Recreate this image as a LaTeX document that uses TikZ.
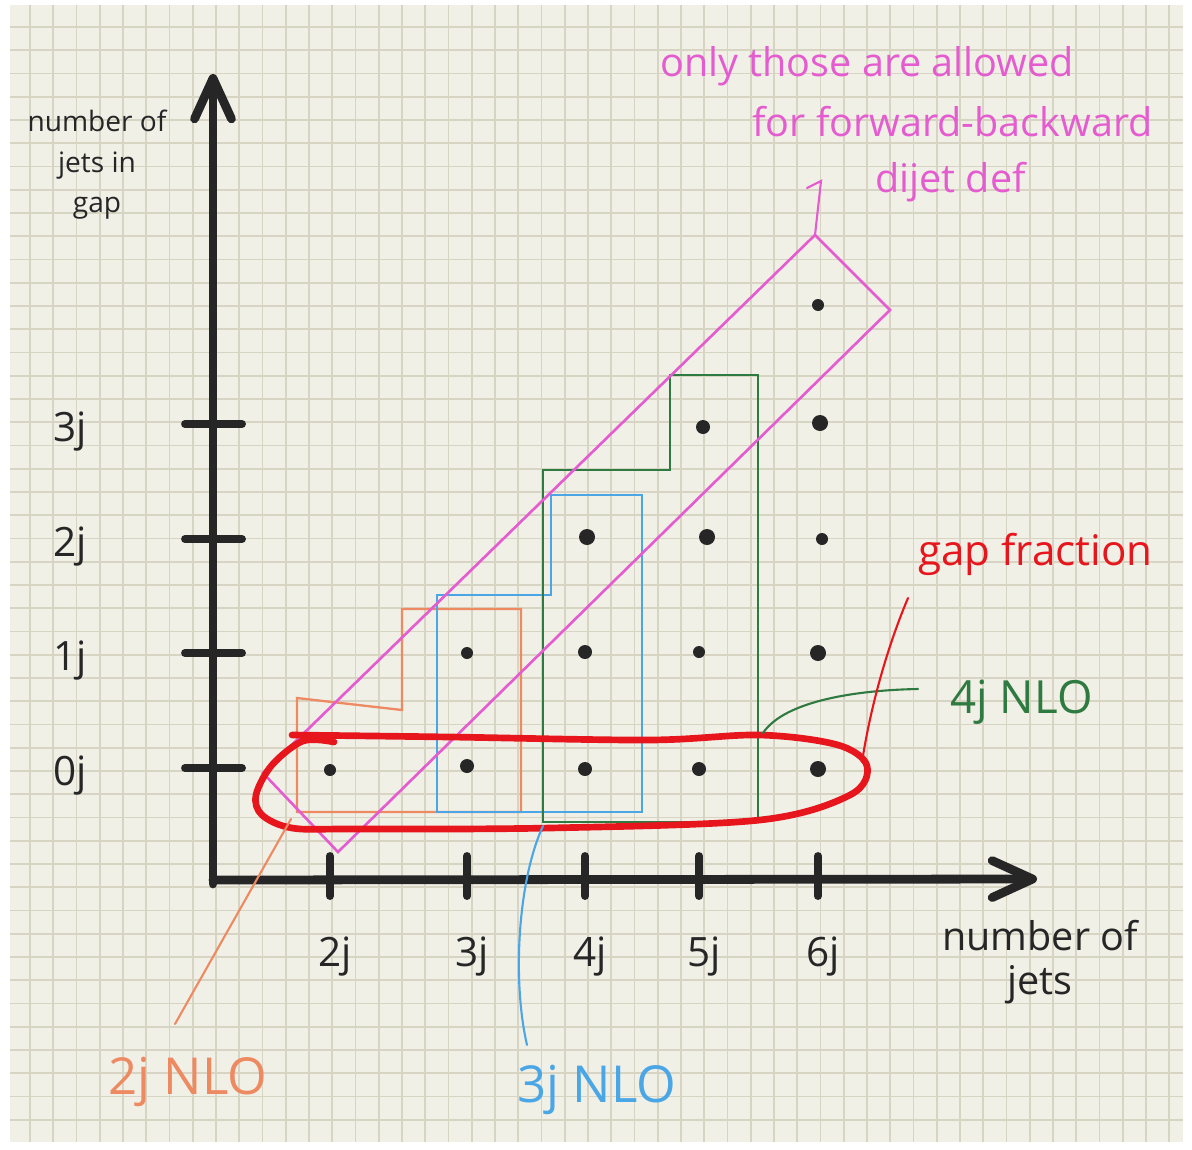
\documentclass[tikz,border=0pt]{standalone}
\usepackage{fontspec}
\setmainfont{Open Sans}
\usetikzlibrary{arrows.meta}

\definecolor{paper}{HTML}{F1F0E7}
\definecolor{gridgrey}{HTML}{D7D4C4}
\definecolor{ink}{HTML}{262626}
\definecolor{nloorange}{HTML}{EE8A62}
\definecolor{nloblue}{HTML}{4BA6E6}
\definecolor{nlogreen}{HTML}{2F7A40}
\definecolor{fbpink}{HTML}{E45CCF}
\definecolor{gapred}{HTML}{E6161C}

\begin{document}
\begin{tikzpicture}[x=0.02cm, y=-0.02cm,
        gridline/.style={draw=gridgrey, line width=1.1pt},
        axis/.style={draw=ink, line width=5pt, line cap=round,
            -{Straight Barb[length=23pt, width=21pt, round]}},
        tickline/.style={draw=ink, line width=4.5pt, line cap=round},
        jetdot/.style={fill=ink},
        ticklab/.style={text=ink, font=\fontsize{23}{26}\selectfont},
        axtitle/.style={text=ink, align=center},
        nlobox/.style={line width=1.3pt, line join=miter},
        handline/.style={line width=1.2pt, line cap=round},
        note/.style={font=\fontsize{22.5}{26}\selectfont, anchor=west, inner sep=0pt}
    ]
    \useasboundingbox (0,0) rectangle (1192,1149);
    % paper with grid
    \fill[white] (0,0) rectangle (1192,1149);
    \fill[paper] (10,5) rectangle (1183,1142);
    \foreach \i in {0,...,49}
        \draw[gridline] ({30+23.25*\i},5) -- ({30+23.25*\i},1142);
    \foreach \i in {0,...,47}
        \draw[gridline] (10,{27+23.25*\i}) -- (1183,{27+23.25*\i});

    % axes
    \coordinate (origin) at (213,880);
    \coordinate (ytip) at (213,74);
    \coordinate (xtip) at (1037,879);
    \draw[axis] (213,884) -- (ytip);
    \draw[axis] (origin) -- (xtip);

    \foreach \xp/\lab [count=\n from 2] in {330/2j,467/3j,585/4j,699/5j,818/6j} {
        \draw[tickline] (\xp,856) -- (\xp,896);
        \node[ticklab] (xl\n) at (\xp+5,957) {\lab};
    }
    \foreach \yp/\lab [count=\n from 0] in {768/0j,653/1j,539/2j,424/3j} {
        \draw[tickline] (185,\yp) -- (242,\yp);
        \node[ticklab] (yl\n) at (70,\yp+8) {\lab};
    }

    \node[axtitle, font=\fontsize{16}{23}\selectfont] (ytitle) at (97,165) {number of\\jets in\\gap};
    \node[axtitle, font=\fontsize{22.5}{25}\selectfont] (xtitle) at (1040,962) {number of\\jets};

    % jet multiplicities
    \foreach \px/\py/\r in {330/770/6, 467/766/7, 585/769/7, 699/769/7, 818/769/8,
            467/653/6, 585/652/7, 699/652/6, 818/653/8,
            587/537/8, 707/537/8, 822/539/6,
            703/427/7, 820/423/8,
            818/305/6}
        \fill[jetdot] (\px,\py) circle[radius=\r];

    % NLO regions
    \draw[nlobox, nloorange] (297,812) -- (297,698) -- (402,710) -- (402,609)
        -- (521,609) -- (521,812) -- cycle;
    \draw[nlobox, nloblue] (437,812) -- (437,595) -- (551,595) -- (551,495)
        -- (642,495) -- (642,812) -- cycle;
    \draw[nlobox, nlogreen] (543,822) -- (543,470) -- (670,470) -- (670,375)
        -- (758,375) -- (758,822) -- cycle;
    \draw[nlobox, fbpink, line width=1.5pt] (263,773) -- (338,852) -- (890,310)
        -- (815,235) -- cycle;

    % gap fraction
    \draw[gapred, line width=3.8pt, line cap=round, line join=round]
        plot[smooth, tension=0.55] coordinates {(292,735) (450,737) (650,740) (760,735)
        (838,745) (867,766) (850,795) (760,820) (550,828) (350,829) (292,828)
        (262,815) (256,795) (272,765) (303,741) (334,742)};

    % labels
    \node[note, text=fbpink] (fb1) at (660,66) {only those are allowed};
    \node[note, text=fbpink] (fb2) at (752,122) {for forward-backward};
    \node[note, text=fbpink] (fb3) at (875,182) {dijet def};
    \node[note, text=gapred, font=\fontsize{24}{28}\selectfont] (gaplab) at (918,554) {gap fraction};
    \node[note, text=nlogreen, font=\fontsize{26}{28}\selectfont] (lbl4) at (950,702) {4j NLO};
    \node[note, text=nloorange, font=\fontsize{29}{30}\selectfont] (lbl2) at (108,1082) {2j NLO};
    \node[note, text=nloblue, font=\fontsize{29}{30}\selectfont] (lbl3) at (517,1090) {3j NLO};

    \coordinate (fbcorner) at (815,235);
    \coordinate (fbhook) at (821,181);
    \coordinate (o2start) at (175,1024);
    \coordinate (o2end) at (291,819);
    \coordinate (b3start) at (527,1045);
    \coordinate (b3end) at (543,826);
    \coordinate (g4start) at (763,733);
    \coordinate (g4end) at (918,689);
    \coordinate (r0start) at (908,598);
    \coordinate (r0end) at (862,762);

    \draw[handline, fbpink] (807,188) -- (fbhook) -- (fbcorner);
    \draw[handline, nloorange] (o2start) -- (o2end);
    \draw[handline, nloblue] (b3start) .. controls (512,980) and (518,880) .. (b3end);
    \draw[handline, nlogreen] (g4start) .. controls (785,700) and (860,690) .. (g4end);
    \draw[handline, gapred] (r0start) .. controls (886,650) and (870,710) .. (r0end);
\end{tikzpicture}
\end{document}
